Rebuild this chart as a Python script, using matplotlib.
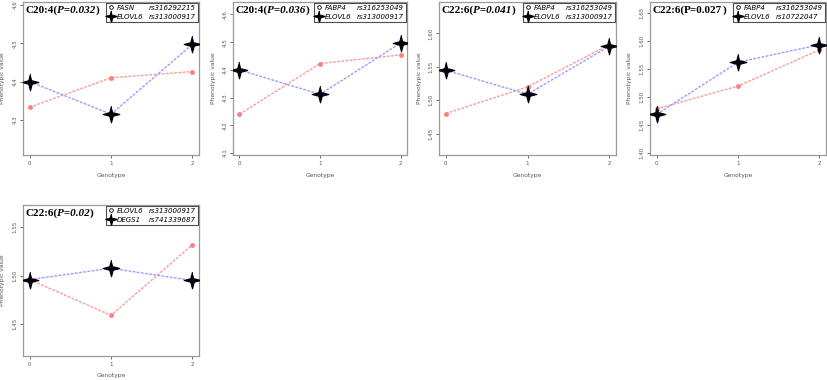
import numpy as np
import matplotlib
matplotlib.use("Agg")
import matplotlib.pyplot as plt
from matplotlib.lines import Line2D

genotypes = [0, 1, 2]

titles_main = ["C20:4(", "C20:4(", "C22:6(", "C22:6(", "C22:6("]
titles_p = ["P=0.032", "P=0.036", "P=0.041", "P=0.027", "P=0.02"]
titles_italic = [True, True, True, False, True]

gene1 = ["FASN", "FABP4", "FABP4", "FABP4", "ELOVL6"]
snp1 = ["rs316292215", "rs316253049", "rs316253049", "rs316253049", "rs313000917"]
gene2 = ["ELOVL6", "ELOVL6", "ELOVL6", "ELOVL6", "DEGS1"]
snp2 = ["rs313000917", "rs313000917", "rs313000917", "rs10722047", "rs741339687"]

red_vals = [
    [4.333, 4.410, 4.426],
    [4.240, 4.423, 4.454],
    [1.480, 1.520, 1.583],
    [1.479, 1.5195, 1.584],
    [1.496, 1.459, 1.532],
]
blue_vals = [
    [4.400, 4.315, 4.497],
    [4.400, 4.312, 4.497],
    [1.545, 1.509, 1.581],
    [1.469, 1.562, 1.593],
    [1.496, 1.5076, 1.495],
]
ylims = [
    (4.209, 4.607),
    (4.093, 4.645),
    (1.418, 1.647),
    (1.397, 1.669),
    (1.417, 1.573),
]
yticks = [
    [4.3, 4.4, 4.5, 4.6],
    [4.1, 4.2, 4.3, 4.4, 4.5, 4.6],
    [1.45, 1.50, 1.55, 1.60],
    [1.40, 1.45, 1.50, 1.55, 1.60, 1.65],
    [1.45, 1.50, 1.55],
]
ytick_fmt = ["%.1f", "%.1f", "%.2f", "%.2f", "%.2f"]

W, H = 827, 380
fig = plt.figure(figsize=(W / 100, H / 100), dpi=100)

boxes = [
    (23, 199, 2, 155),
    (233, 407, 2, 155),
    (439, 616, 2, 155),
    (650, 826, 2, 155),
    (23, 199, 205, 356),
]

red_line = "#ff9a9a"
red_pt = "#ff7f7f"
blue_line = "#9c9cff"
box_col = "#9a9a9a"

ang = np.arange(8) * np.pi / 4 + np.pi / 2
rad = np.where(np.arange(8) % 2 == 0, 1.0, 0.3)
star = list(zip(rad * np.cos(ang), rad * np.sin(ang)))

for i in range(5):
    l, r, t, b = boxes[i]
    ax = fig.add_axes([l / W, 1 - b / H, (r - l) / W, (b - t) / H])
    ax.plot(genotypes, red_vals[i], color=red_line, linestyle=(0, (2, 1)),
            linewidth=1.0, marker="o", markersize=2.5, markerfacecolor=red_pt,
            markeredgecolor=red_pt, zorder=2)
    ax.plot(genotypes, blue_vals[i], color=blue_line, linestyle=(0, (2, 1)),
            linewidth=1.0, zorder=2)
    ax.plot(genotypes, blue_vals[i], linestyle="none", marker=star,
            markersize=12, markerfacecolor="#000010", markeredgecolor="#000000",
            markeredgewidth=0.8, zorder=3)
    ax.set_xlim(-0.08, 2.08)
    ax.set_ylim(*ylims[i])
    ax.set_xticks(genotypes)
    ax.set_xticklabels([str(g) for g in genotypes])
    ax.set_yticks(yticks[i])
    ax.set_yticklabels([ytick_fmt[i] % v for v in yticks[i]], rotation=90,
                       va="center")
    ax.tick_params(axis="both", labelsize=4, length=2, width=0.6,
                   colors="#555555", pad=2)
    for s in ax.spines.values():
        s.set_color(box_col)
        s.set_linewidth(0.9)
    ax.set_xlabel("Genotype", fontsize=4.3, color="#555555", labelpad=5)
    ax.set_ylabel("Phenotypic value", fontsize=4.3, color="#555555", labelpad=5)

    t1 = ax.text(0.012, 0.975, titles_main[i], transform=ax.transAxes,
                 fontsize=8, fontweight="bold", family="Liberation Serif",
                 va="top", ha="left", zorder=5)
    t2 = ax.annotate(titles_p[i], xy=(1, 0), xycoords=t1, va="bottom", ha="left",
                     fontsize=8, fontweight="bold", family="Liberation Serif",
                     fontstyle="italic" if titles_italic[i] else "normal",
                     zorder=5)
    ax.annotate(")", xy=(1, 0), xycoords=t2, va="bottom", ha="left",
                fontsize=8, fontweight="bold", family="Liberation Serif",
                zorder=5)

    h1 = Line2D([], [], linestyle="none", marker="o", markersize=2.6,
                markerfacecolor="none", markeredgecolor="black",
                markeredgewidth=0.6)
    h2 = Line2D([], [], linestyle="none", marker=star, markersize=8,
                markerfacecolor="black", markeredgecolor="black")
    hb = Line2D([], [], linestyle="none")
    leg = ax.legend([h1, h2, hb, hb], [gene1[i], gene2[i], snp1[i], snp2[i]],
                    ncol=2, loc="upper right", borderaxespad=0.15,
                    prop={"size": 5.0, "style": "italic", "family": "DejaVu Sans"},
                    handlelength=0.8, handletextpad=0.4, columnspacing=-0.3,
                    labelspacing=0.45, borderpad=0.25, frameon=True,
                    fancybox=False)
    leg.get_frame().set_edgecolor("#222222")
    leg.get_frame().set_linewidth(0.8)
    leg.set_zorder(6)

fig.savefig("out.png", dpi=100)
